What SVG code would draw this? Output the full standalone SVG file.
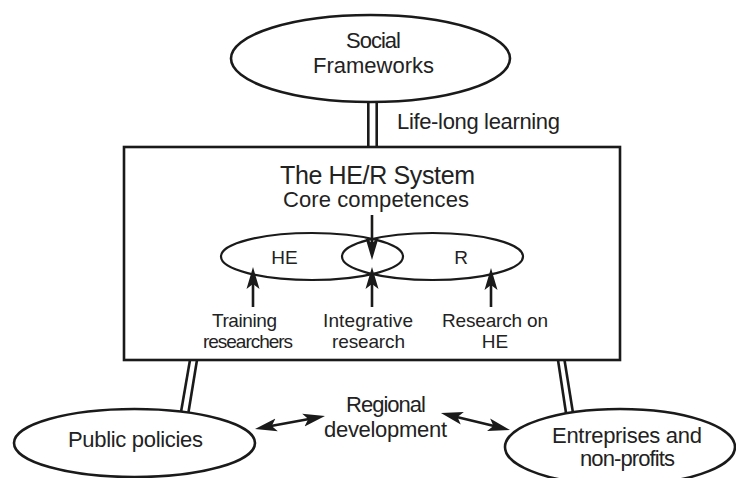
<svg xmlns="http://www.w3.org/2000/svg" width="736" height="478" viewBox="0 0 736 478">
<style>
text{font-family:"Liberation Sans",Arial,sans-serif;fill:#222;text-anchor:middle}
.o{font-size:22px}
.i{font-size:19px}
.t{font-size:25px}
.sh{fill:#fff;stroke:#1a1a1a;stroke-width:2.6}
.in{fill:none;stroke:#1a1a1a;stroke-width:2.2}
.ln{stroke:#1a1a1a;stroke-width:2.6;fill:none}
.ar{stroke:#1a1a1a;stroke-width:2.6;fill:none;marker-end:url(#ah)}
.ar2{stroke:#1a1a1a;stroke-width:2.6;fill:none;marker-end:url(#ah);marker-start:url(#ah)}
</style>
<defs>
<marker id="ah" markerUnits="userSpaceOnUse" markerWidth="24" markerHeight="14" refX="10" refY="6.5" orient="auto-start-reverse" viewBox="0 0 24 13">
<path d="M0,0 L22,6.5 L0,13 L5,6.5 z" fill="#1a1a1a"/>
</marker>
</defs>
<rect width="736" height="478" fill="#fff"/>
<g id="connectors">
<line class="ln" x1="368.3" y1="101" x2="368.3" y2="148"/>
<line class="ln" x1="376.7" y1="101" x2="376.7" y2="148"/>
<line class="ln" x1="190" y1="360" x2="181" y2="412"/>
<line class="ln" x1="197" y1="360" x2="188.5" y2="412"/>
<line class="ln" x1="558" y1="360" x2="566" y2="413"/>
<line class="ln" x1="564.5" y1="360" x2="573" y2="413"/>
<line class="ar2" x1="266.8" y1="426.8" x2="313.2" y2="418.2"/>
<line class="ar2" x1="452.6" y1="415.9" x2="498.3" y2="427.1"/>
</g>
<g id="social">
<ellipse class="sh" cx="370.5" cy="58.5" rx="139.5" ry="43.5"/>
<text class="o" x="373.5" y="48" textLength="55">Social</text>
<text class="o" x="373.5" y="73" textLength="121">Frameworks</text>
</g>
<text class="o" x="478.5" y="129" textLength="163">Life-long learning</text>
<g id="system">
<rect class="sh" x="124" y="147" width="496" height="213"/>
<text class="t" x="377.5" y="184" textLength="195">The HE/R System</text>
<text class="o" x="376" y="207" textLength="186">Core competences</text>
<g id="he">
<ellipse class="in" cx="312" cy="256.5" rx="91" ry="23.5"/>
<text class="i" x="284.5" y="264">HE</text>
</g>
<g id="r">
<ellipse class="in" cx="432.5" cy="256.5" rx="90.5" ry="23.5"/>
<text class="i" x="461" y="264">R</text>
</g>
<line class="ar" x1="372" y1="215" x2="372" y2="248"/>
<line class="ar" x1="253" y1="307" x2="253" y2="279"/>
<line class="ar" x1="372" y1="307" x2="372" y2="279"/>
<line class="ar" x1="491" y1="307" x2="491" y2="280"/>
<text class="i" x="244.5" y="327" textLength="65">Training</text>
<text class="i" x="248" y="348" textLength="90">researchers</text>
<text class="i" x="368" y="327" textLength="90">Integrative</text>
<text class="i" x="368.5" y="348" textLength="73">research</text>
<text class="i" x="495" y="327" textLength="106">Research on</text>
<text class="i" x="495" y="348">HE</text>
</g>
<g id="public">
<ellipse class="sh" cx="134.5" cy="443" rx="120.5" ry="34"/>
<text class="o" x="135.5" y="447" textLength="135">Public policies</text>
</g>
<g id="regional">
<text class="o" x="386" y="412" textLength="80">Regional</text>
<text class="o" x="385.5" y="437" textLength="123">development</text>
</g>
<g id="entreprises">
<ellipse class="sh" cx="620" cy="447" rx="115" ry="38"/>
<text class="o" x="627" y="443" textLength="150">Entreprises and</text>
<text class="o" x="627.5" y="466" textLength="95">non-profits</text>
</g>
</svg>
